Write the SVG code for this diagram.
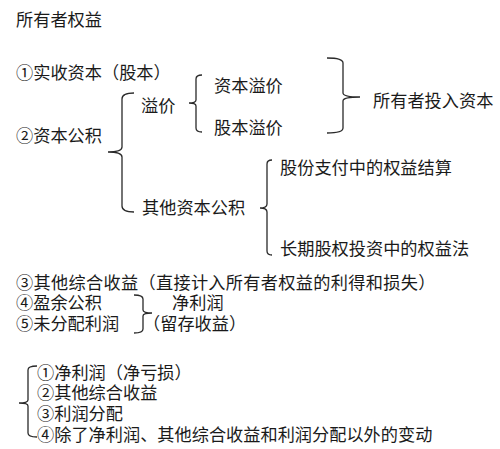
<svg xmlns="http://www.w3.org/2000/svg" width="500" height="449" viewBox="0 0 500 449">
<style>
text{font-family:"Liberation Sans","Noto Sans CJK SC",sans-serif;font-size:17.2px;fill:#1a1a1a}
.br{fill:none;stroke:#2a2a2a;stroke-width:1.3}
</style>
<rect width="500" height="449" fill="#ffffff"/>
<g id="title"><text x="16" y="26">所有者权益</text></g>
<g id="n1"><text x="16" y="79">①实收资本（股本）</text></g>
<g id="n2"><text x="16" y="142">②资本公积</text></g>
<g id="yijia"><text x="141" y="112">溢价</text></g>
<g id="zbyj"><text x="214" y="92">资本溢价</text></g>
<g id="gbyj"><text x="214" y="134">股本溢价</text></g>
<g id="tzzb"><text x="373" y="107">所有者投入资本</text></g>
<g id="qtzbgj"><text x="142" y="214">其他资本公积</text></g>
<g id="gfzf"><text x="280" y="174">股份支付中的权益结算</text></g>
<g id="cqgq"><text x="280" y="255">长期股权投资中的权益法</text></g>
<g id="n3"><text x="16" y="289" letter-spacing="0.3">③其他综合收益（直接计入所有者权益的利得和损失）</text></g>
<g id="n4"><text x="16" y="309">④盈余公积</text></g>
<g id="n5"><text x="16" y="330">⑤未分配利润</text></g>
<g id="jlr"><text x="172" y="309">净利润</text></g>
<g id="lcsy"><text x="143" y="330">（留存收益）</text></g>
<g id="c1"><text x="37" y="379">①净利润（净亏损）</text></g>
<g id="c2"><text x="37" y="399">②其他综合收益</text></g>
<g id="c3"><text x="37" y="420">③利润分配</text></g>
<g id="c4"><text x="37" y="441">④除了净利润、其他综合收益和利润分配以外的变动</text></g>
<g id="connectors">
<path class="br" d="M134,93 Q122,93 122,99 L122,147 Q122,152 108,152 Q122,152 122,157 L122,206 Q122,212 134,212"/>
<path class="br" d="M202,75 Q196,75 196,79 L196,100 Q196,103 189,103 Q196,103 196,106 L196,128 Q196,132 202,132"/>
<path class="br" d="M327,58 Q343,58 343,63 L343,93 Q343,97 360,97 Q343,97 343,101 L343,128 Q343,133 327,133"/>
<path class="br" d="M272,160 Q267,160 267,164 L267,204 Q267,208 260,208 Q267,208 267,212 L267,251 Q267,255 272,255"/>
<path class="br" d="M134,295 Q143,295 143,299 L143,310 Q143,313 152,313 Q143,313 143,316 L143,329 Q143,333 134,333"/>
<path class="br" d="M37,366 Q28,366 28,370 L28,400 Q28,403 19,403 Q28,403 28,406 L28,433 Q28,437 37,437"/>
</g>
</svg>
